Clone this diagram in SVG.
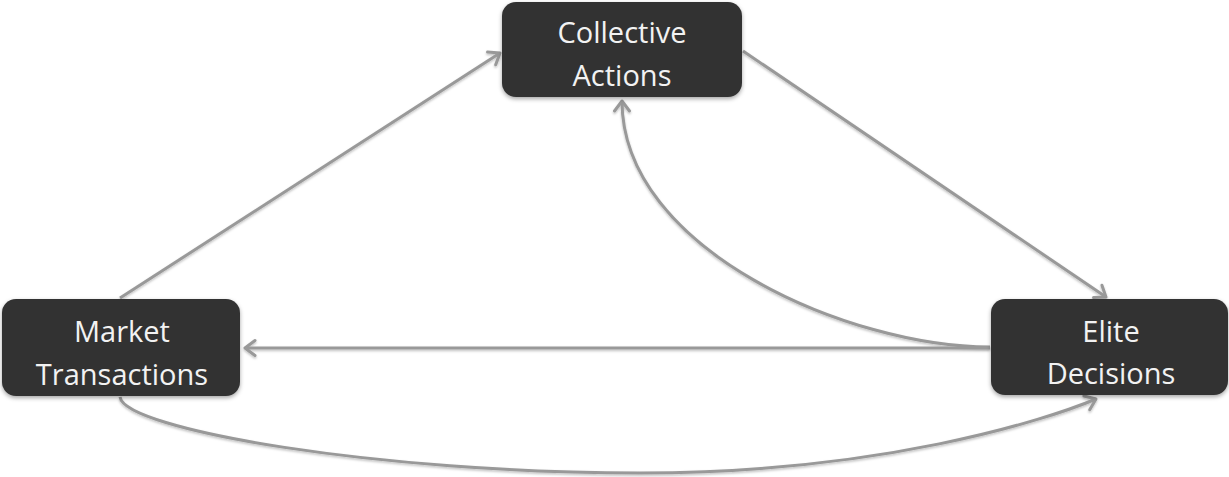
<svg xmlns="http://www.w3.org/2000/svg" width="1229" height="477" viewBox="0 0 1229 477">
<style>
.node rect{fill:#333333;filter:url(#sh)}
.node text{fill:#f2f2f2;font-family:"Open Sans","Liberation Sans",sans-serif;font-size:29px;text-anchor:middle}
.conn path{fill:none;stroke:#999999;stroke-width:3;marker-end:url(#arr);filter:url(#lsh)}
</style>
<defs>
<filter id="sh" x="-10%" y="-10%" width="120%" height="130%">
<feDropShadow dx="0" dy="2" stdDeviation="2" flood-color="#000" flood-opacity="0.35"/>
</filter>
<filter id="lsh" filterUnits="userSpaceOnUse" x="0" y="0" width="1229" height="477">
<feDropShadow dx="0" dy="1.5" stdDeviation="1" flood-color="#000" flood-opacity="0.25"/>
</filter>
<marker id="arr" markerUnits="userSpaceOnUse" viewBox="-14 -10 16 20" refX="0" refY="0" markerWidth="16" markerHeight="20" orient="auto">
<path d="M-10,-7.5 L0,0 L-10,7.5" fill="none" stroke="#999999" stroke-width="3" stroke-linecap="round" stroke-linejoin="round"/>
</marker>
</defs>
<rect width="1229" height="477" fill="#ffffff"/>
<g class="conn" id="connectors">
<path d="M120,298 L500,53"/>
<path d="M743,51 L1106,297"/>
<path d="M990,347 C850,347 622,250 622,101"/>
<path d="M990,348 L245,348"/>
<path d="M120,397 C125,430 380,473 640,473 C880,473 1046,420 1096,399"/>
</g>
<g class="node" id="collective">
<rect x="502" y="2" width="240" height="95" rx="14"/>
<text x="622" y="43">Collective</text>
<text x="622" y="86">Actions</text>
</g>
<g class="node" id="market">
<rect x="2" y="299" width="238" height="97" rx="14"/>
<text x="122" y="342">Market</text>
<text x="122" y="385">Transactions</text>
</g>
<g class="node" id="elite">
<rect x="991" y="299" width="237" height="96" rx="14"/>
<text x="1111" y="342">Elite</text>
<text x="1111" y="384">Decisions</text>
</g>
</svg>
